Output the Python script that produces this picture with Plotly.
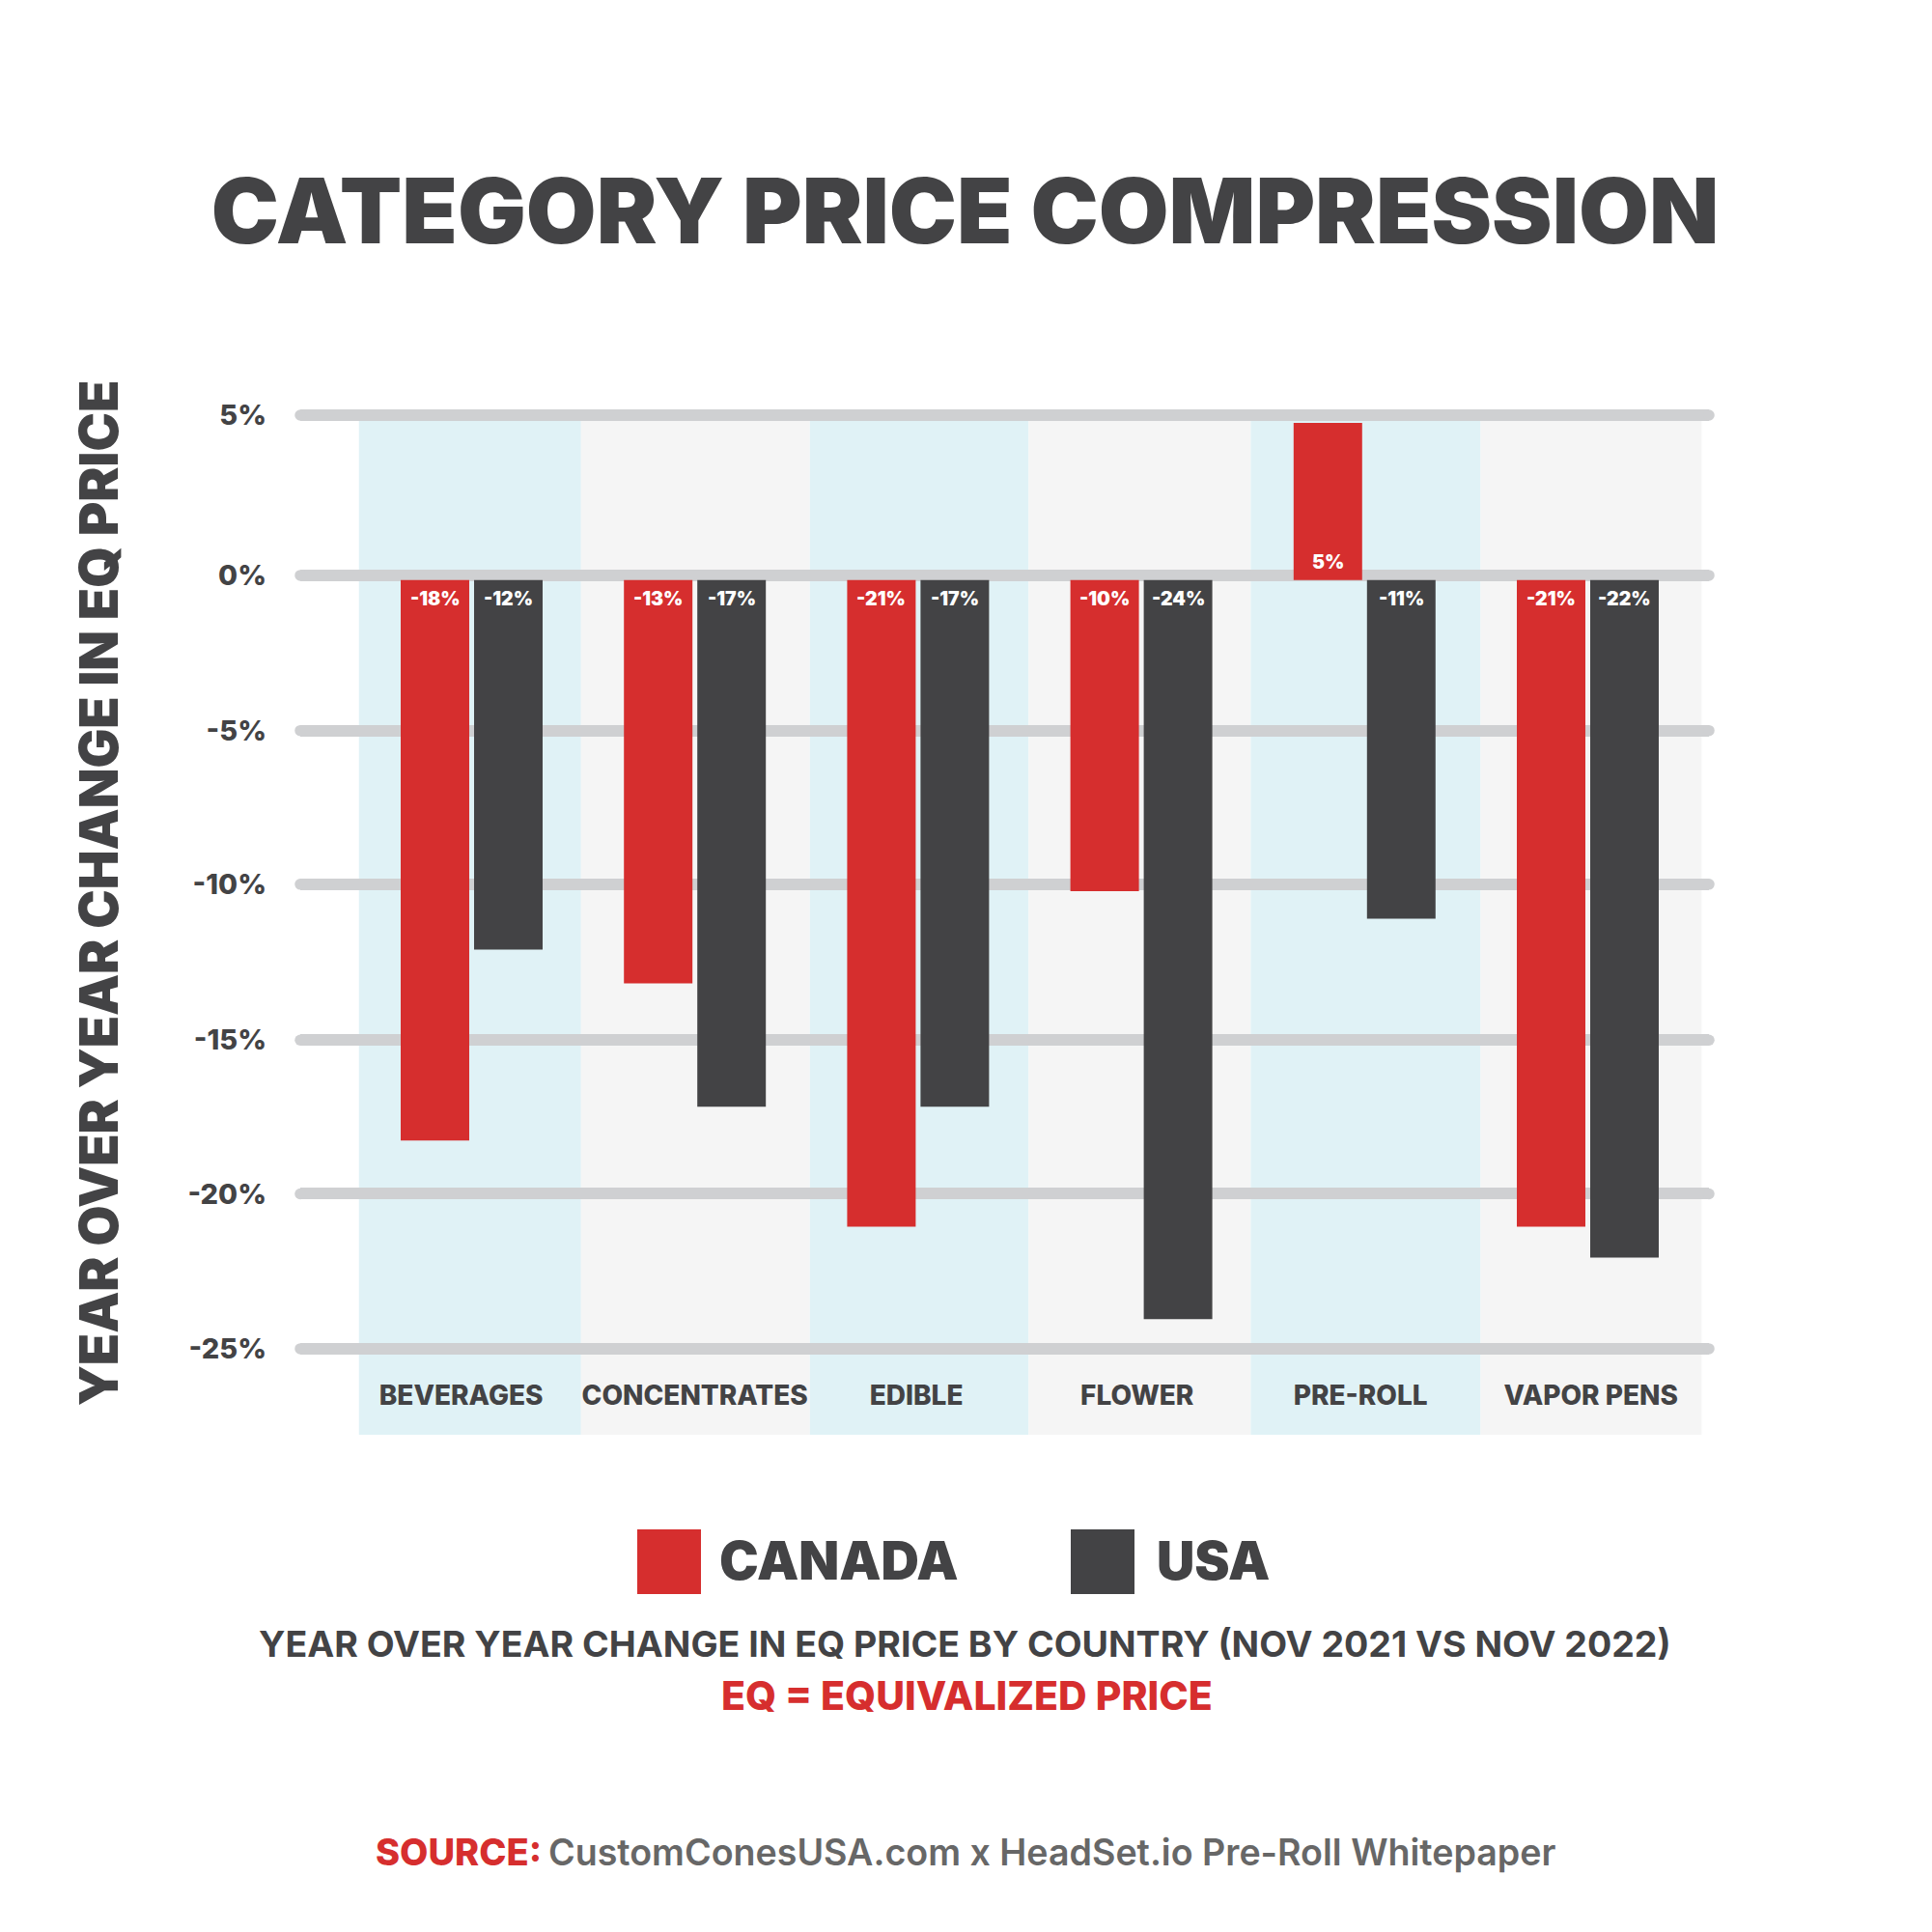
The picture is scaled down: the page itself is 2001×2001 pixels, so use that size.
import plotly.graph_objects as go

categories = ["BEVERAGES", "CONCENTRATES", "EDIBLE", "FLOWER", "PRE-ROLL", "VAPOR PENS"]
canada = [-18.2, -13.1, -21.0, -10.1, 5.1, -21.0]
usa = [-12.0, -17.1, -17.1, -24.0, -11.0, -22.0]
tick_text = ["5%", "0%", "-5%", "-10%", "-15%", "-20%", "-25%"]
grid_levels = [5.35, 0.15, -4.89, -9.88, -14.94, -19.93, -24.96]
label_at = [-0.047, 1.0, 1.992, 2.981, 3.982, 5.014]
band_edges = [-0.505, 0.49, 1.515, 2.495, 3.49, 4.52, 5.51]

W = H = 2001
L, R, T, B = 311, 1770, 424, 1426
INK, RED, GRID, BLUE, GREY = "#434345", "#D62E2E", "#CFD0D2", "#E0F2F6", "#F5F5F5"
FONT = "Inter"
X_RANGE = [(L - 488.5) / 231.2, (R - 488.5) / 231.2]
Y_RANGE = [(600.7 - B) / 31.9, (600.7 - T) / 31.9]

def px(v):
    return (v - L) / (R - L)
def py(v):
    return (B - v) / (B - T)

fig = go.Figure()
fig.add_bar(name="CANADA", x=list(range(6)), y=canada, marker_color=RED, marker_line_width=0, showlegend=False)
fig.add_bar(name="USA", x=list(range(6)), y=usa, marker_color=INK, marker_line_width=0, showlegend=False)
fig.add_scatter(
    x=[X_RANGE[0], X_RANGE[1]] * len(grid_levels),
    y=[g for g in grid_levels for _ in range(2)],
    mode="markers", marker=dict(color=GRID, size=11.5, line_width=0),
    cliponaxis=False, showlegend=False, hoverinfo="skip",
)

shapes = []
for i in range(6):
    shapes.append(dict(type="rect", xref="x", yref="paper", layer="below",
                       x0=band_edges[i], x1=band_edges[i + 1], y0=py(1486), y1=py(428),
                       fillcolor=BLUE if i % 2 == 0 else GREY, line_width=0))
for color, x0 in ((RED, 660), (INK, 1109)):
    shapes.append(dict(type="rect", xref="paper", yref="paper",
                       x0=px(x0), x1=px(x0 + 66), y0=py(1651), y1=py(1584),
                       fillcolor=color, line_width=0))

def note(text, x, y, size, color=INK, weight=800, xanchor="center"):
    return dict(text=text, xref="paper", yref="paper", x=px(x), y=py(y), showarrow=False,
                xanchor=xanchor, yanchor="middle",
                font=dict(family=FONT, size=size, color=color, weight=weight))

ann = [
    note("CANADA", 743, 1616, 54.5, weight=900, xanchor="left"),
    note("USA", 1196, 1616, 54.5, weight=900, xanchor="left"),
    note("YEAR OVER YEAR CHANGE IN EQ PRICE BY COUNTRY (NOV 2021 VS NOV 2022)", 999, 1702, 37.5, weight=700),
    note("EQ = EQUIVALIZED PRICE", 1001, 1756, 41, color=RED, weight=800),
    note("SOURCE:", 563, 1918, 38, color=RED, weight=800, xanchor="right"),
    note("CustomConesUSA.com x HeadSet.io Pre-Roll Whitepaper", 566, 1918, 37.6, color="#676767", weight=600, xanchor="left"),
]
for offset, values in ((-0.164, canada), (0.164, usa)):
    for i, v in enumerate(values):
        ann.append(dict(text=f"{v:.0f}%", x=i + offset, y=0, xref="x", yref="y", showarrow=False,
                        yanchor="middle", yshift=19 if v > 0 else -19.5,
                        font=dict(family=FONT, size=19.5, color="white", weight=900)))

fig.update_layout(
    width=W, height=H, autosize=False, paper_bgcolor="white", plot_bgcolor="rgba(0,0,0,0)",
    margin=dict(l=L, r=W - R, t=T, b=H - B, pad=0),
    barmode="group", bargap=0.3426, bargroupgap=0.066,
    shapes=shapes, annotations=ann,
    title=dict(text="CATEGORY PRICE COMPRESSION", x=0.4995, xanchor="center", y=1 - 219 / H, yanchor="middle",
               xref="container", yref="container",
               font=dict(family=FONT, size=94, color=INK, weight=900)),
    xaxis=dict(range=X_RANGE, tickmode="array", tickvals=label_at, ticktext=categories,
               showgrid=False, zeroline=False, showline=False, ticks="", ticklabelstandoff=0,
               tickfont=dict(family=FONT, size=28, color=INK, weight=800)),
    yaxis=dict(range=Y_RANGE, tickmode="array", tickvals=grid_levels, ticktext=tick_text,
               showgrid=True, gridcolor=GRID, gridwidth=11.5, zeroline=False, showline=False,
               ticks="", ticklabelstandoff=34,
               tickfont=dict(family=FONT, size=29, color=INK, weight=800),
               title=dict(text="YEAR OVER YEAR CHANGE IN EQ PRICE", standoff=54,
                          font=dict(family=FONT, size=54.3, color=INK, weight=900))),
)
fig.write_html("out.html", config={"displayModeBar": False}, post_script="document.body.style.margin='0';")
